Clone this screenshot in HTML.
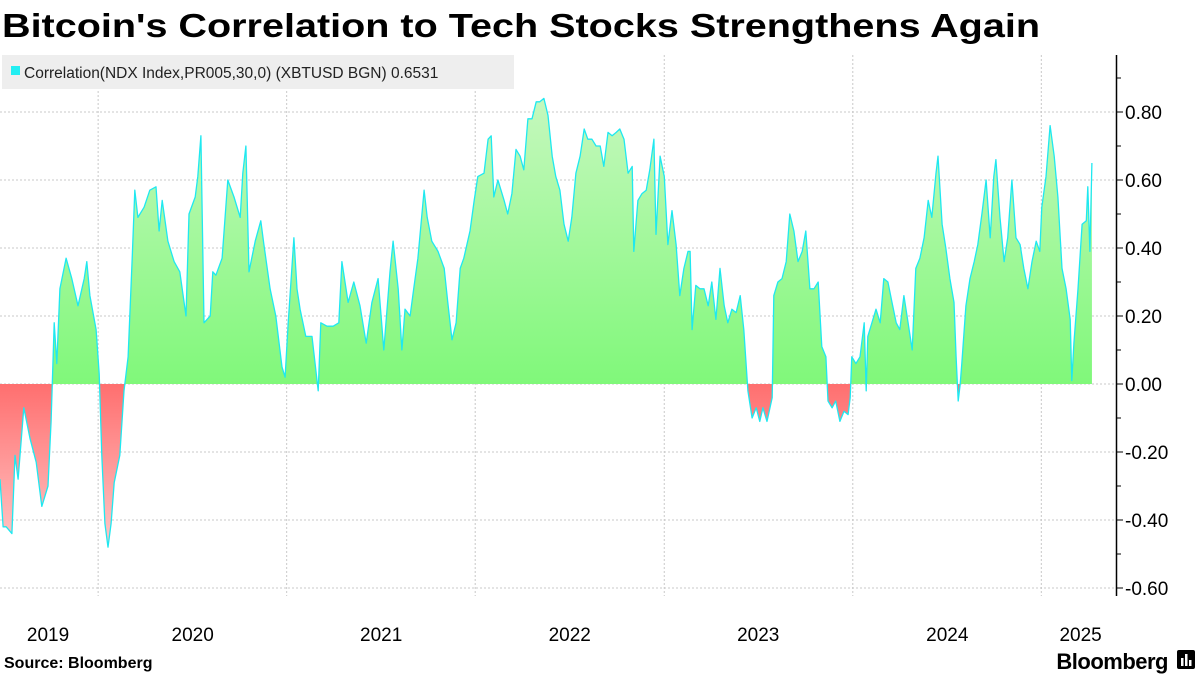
<!DOCTYPE html>
<html><head><meta charset="utf-8"><style>
html,body{margin:0;padding:0;background:#fff;}
svg{display:block;font-family:"Liberation Sans",sans-serif;}
</style></head><body>
<svg id="chart" width="1200" height="675" viewBox="0 0 1200 675">
<defs>
<linearGradient id="gpos" gradientUnits="userSpaceOnUse" x1="0" y1="95" x2="0" y2="384">
<stop offset="0" stop-color="#c6f8be"/><stop offset="1" stop-color="#80f87a"/></linearGradient>
<linearGradient id="gneg" gradientUnits="userSpaceOnUse" x1="0" y1="384" x2="0" y2="550">
<stop offset="0" stop-color="#ff6f6f"/><stop offset="1" stop-color="#ffc8c8"/></linearGradient>
<clipPath id="clipPos"><rect x="0" y="0" width="1116" height="384"/></clipPath>
<clipPath id="clipNeg"><rect x="0" y="384" width="1116" height="300"/></clipPath>
</defs>
<text x="2" y="37" font-size="33" font-weight="bold" fill="#000" textLength="1038" lengthAdjust="spacingAndGlyphs">Bitcoin's Correlation to Tech Stocks Strengthens Again</text>
<g id="grid"></g>
<g id="series"></g>
<g id="yaxis"></g>
<g id="xaxis"></g>
<g>
<rect x="2" y="55" width="512" height="34" fill="#eeeeee"/>
<rect x="11" y="66" width="9" height="9" fill="#22eef2"/>
<text x="24" y="78" font-size="15.5" fill="#222">Correlation(NDX Index,PR005,30,0) (XBTUSD BGN) 0.6531</text>
</g>
<text x="4" y="668" font-size="16" font-weight="bold" fill="#000">Source: Bloomberg</text>
<text x="1168" y="669" font-size="22" font-weight="bold" fill="#000" text-anchor="end" letter-spacing="-0.5">Bloomberg</text>
<g>
<rect x="1177" y="650" width="18" height="19" rx="2" fill="#000"/>
<rect x="1181" y="658" width="2.5" height="8" fill="#fff"/><rect x="1185" y="654" width="2.5" height="12" fill="#fff"/><rect x="1189" y="660" width="2.5" height="6" fill="#fff"/>
</g>
</svg>
<script>
const days = [0,6,12,23,29,35,46,58,70,81,93,99,105,110,116,128,139,151,163,168,174,186,192,197,203,209,215,221,232,240,248,256,261,267,279,290,302,308,314,325,337,348,360,366,378,383,389,395,407,412,418,430,441,453,465,470,476,482,494,505,511,523,534,546,552,558,569,575,581,592,604,610,616,621,633,645,656,662,674,685,697,709,720,732,743,755,761,771,778,784,794,801,809,821,827,836,848,860,867,875,883,891,898,910,918,925,937,945,951,956,964,976,983,991,999,1007,1014,1022,1030,1038,1045,1053,1061,1069,1076,1084,1092,1100,1107,1115,1123,1131,1138,1146,1154,1162,1169,1177,1185,1193,1200,1208,1216,1224,1227,1235,1243,1251,1258,1266,1270,1278,1286,1293,1301,1309,1316,1324,1332,1336,1340,1347,1355,1363,1371,1378,1386,1394,1402,1409,1417,1425,1433,1440,1448,1456,1464,1471,1477,1485,1495,1498,1506,1514,1522,1529,1537,1545,1553,1560,1568,1576,1584,1591,1599,1603,1611,1618,1626,1634,1642,1646,1649,1657,1665,1673,1677,1680,1688,1696,1704,1711,1719,1727,1735,1742,1750,1758,1766,1773,1781,1789,1797,1804,1812,1816,1824,1831,1839,1847,1851,1855,1859,1862,1870,1878,1886,1893,1901,1909,1917,1924,1928,1936,1944,1951,1959,1967,1975,1982,1990,1998,2006,2013,2017,2025,2033,2041,2048,2056,2064,2072,2075,2079,2087,2095,2103,2106,2110,2114];
const corr = [-0.28,-0.42,-0.42,-0.44,-0.21,-0.28,-0.07,-0.16,-0.23,-0.36,-0.3,-0.11,0.18,0.06,0.28,0.37,0.31,0.23,0.31,0.36,0.26,0.16,0.03,-0.21,-0.41,-0.48,-0.41,-0.29,-0.21,-0.02,0.08,0.37,0.57,0.49,0.52,0.57,0.58,0.45,0.54,0.42,0.36,0.33,0.2,0.5,0.55,0.61,0.73,0.18,0.2,0.33,0.32,0.37,0.6,0.55,0.49,0.62,0.7,0.33,0.42,0.48,0.41,0.28,0.2,0.05,0.02,0.18,0.43,0.28,0.22,0.14,0.14,0.06,-0.02,0.18,0.17,0.17,0.18,0.36,0.24,0.3,0.23,0.12,0.24,0.31,0.1,0.33,0.42,0.28,0.1,0.22,0.2,0.28,0.37,0.57,0.49,0.42,0.39,0.34,0.24,0.13,0.18,0.34,0.37,0.45,0.54,0.61,0.62,0.72,0.73,0.55,0.6,0.54,0.5,0.56,0.69,0.67,0.63,0.78,0.78,0.83,0.83,0.84,0.79,0.67,0.61,0.57,0.47,0.42,0.49,0.62,0.67,0.75,0.72,0.72,0.7,0.7,0.64,0.74,0.73,0.74,0.75,0.72,0.62,0.64,0.39,0.54,0.56,0.57,0.63,0.72,0.44,0.67,0.61,0.41,0.51,0.41,0.26,0.34,0.39,0.39,0.16,0.29,0.28,0.28,0.23,0.3,0.19,0.34,0.23,0.18,0.22,0.21,0.26,0.16,-0.02,-0.1,-0.07,-0.11,-0.07,-0.11,-0.04,0.26,0.3,0.31,0.36,0.5,0.45,0.36,0.39,0.45,0.28,0.28,0.3,0.11,0.08,-0.05,-0.07,-0.05,-0.11,-0.08,-0.09,-0.04,0.08,0.06,0.08,0.18,-0.02,0.14,0.18,0.22,0.18,0.31,0.3,0.24,0.18,0.16,0.26,0.18,0.1,0.34,0.37,0.43,0.54,0.49,0.62,0.67,0.47,0.4,0.31,0.24,0.08,-0.05,0.0,0.06,0.23,0.31,0.36,0.41,0.5,0.6,0.43,0.61,0.66,0.49,0.36,0.43,0.6,0.43,0.41,0.34,0.28,0.36,0.42,0.39,0.52,0.61,0.76,0.67,0.55,0.34,0.28,0.19,0.01,0.12,0.28,0.47,0.48,0.58,0.39,0.65];
const yTicks = [0.8,0.6,0.4,0.2,0,-0.2,-0.4,-0.6];
const yTickLabels = ["0.80","0.60","0.40","0.20","0.00","-0.20","-0.40","-0.60"];
const yearDays = [190,555,920,1286,1651,2016];
const yearLabels = ["2019","2020","2021","2022","2023","2024","2025"];
const yearLabelDays = [93,373,738,1103,1468,1834,2092];

const NS="http://www.w3.org/2000/svg";
function xS(d){return d/1.936;}
function yS(v){return 384 - v*340;}
function mk(tag,attrs,parent){const e=document.createElementNS(NS,tag);for(const k in attrs)e.setAttribute(k,attrs[k]);parent.appendChild(e);return e;}
const grid=document.getElementById('grid'),series=document.getElementById('series'),yax=document.getElementById('yaxis'),xax=document.getElementById('xaxis');
for(let v=-0.6;v<=0.81;v+=0.2){const y=yS(v);
 const l=mk('line',{x1:0,x2:1116,y1:y,y2:y,stroke:'#c8c8c8','stroke-dasharray':'2,2','stroke-width':1},grid);
 
 }
yearDays.forEach(d=>{const x=xS(d);
 const l=mk('line',{x1:x,x2:x,y1:55,y2:596,stroke:'#c8c8c8','stroke-dasharray':'2,2','stroke-width':1},grid);
 
 });
let pts=days.map((d,i)=>xS(d).toFixed(1)+','+yS(corr[i]).toFixed(1));
const areaD='M'+xS(days[0])+','+yS(0)+' L'+pts.join(' L')+' L'+xS(days[days.length-1])+','+yS(0)+' Z';
const ap=mk('path',{d:areaD,fill:'url(#gpos)','clip-path':'url(#clipPos)'},series);


const an=mk('path',{d:areaD,fill:'url(#gneg)','clip-path':'url(#clipNeg)'},series);


const ln=mk('path',{d:'M'+pts.join(' L'),fill:'none',stroke:'#1fe8f0','stroke-width':1.3,'stroke-linejoin':'round'},series);


const ax=mk('line',{x1:1116.5,x2:1116.5,y1:55,y2:596,stroke:'#000','stroke-width':1.5},yax);


for(let k=-6;k<=9;k++){const y=yS(k/10);const major=(k%2===0);
 const t=mk('line',{x1:1116,x2:major?1123:1121,y1:y,y2:y,stroke:'#000','stroke-width':1},yax);
 
 }
yTicks.forEach((v,i)=>{const t=mk('text',{x:1125,y:yS(v)+7,'font-size':19,fill:'#000'},yax);t.textContent=yTickLabels[i];
 
 });
yearLabels.forEach((s,i)=>{const t=mk('text',{x:xS(yearLabelDays[i]),y:641,'font-size':19,fill:'#000','text-anchor':'middle'},xax);t.textContent=s;
 
 });
</script>
</body></html>
